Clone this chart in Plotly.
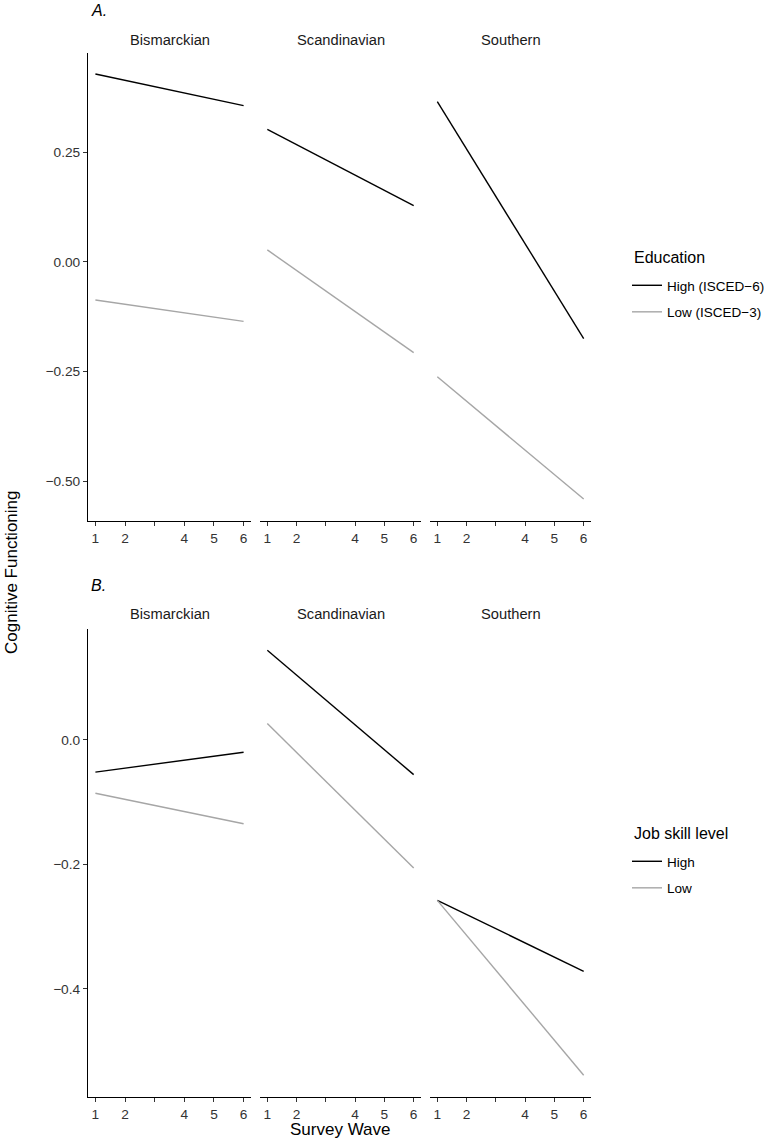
import plotly.graph_objects as go

# ---- data ----
regimes = ["Bismarckian", "Scandinavian", "Southern"]
waves = [1, 6]
x_tickvals = [1, 2, 3, 4, 5, 6]
x_ticktext = ["1", "2", "", "4", "5", "6"]

# Panel A: Education
edu_high_start = [0.428, 0.302, 0.365]
edu_high_end = [0.356, 0.128, -0.175]
edu_low_start = [-0.087, 0.027, -0.262]
edu_low_end = [-0.136, -0.207, -0.541]

# Panel B: Job skill level
job_high_start = [-0.052, 0.144, -0.258]
job_high_end = [-0.020, -0.056, -0.372]
job_low_start = [-0.086, 0.026, -0.258]
job_low_end = [-0.135, -0.206, -0.539]

yA_ticks = [0.25, 0.0, -0.25, -0.5]
yB_ticks = [0.0, -0.2, -0.4]

W, H = 772, 1138
FONT = "Liberation Sans, Arial, Helvetica, sans-serif"
BLACK = "#000000"
GREY = "#A6A6A6"

def px_x(p):
    return p / W

def px_y(p):
    return 1 - p / H

facet_x = [(88, 251), (260, 421), (430, 591)]
rowA_y = (53, 521)
rowB_y = (629, 1097)

fig = go.Figure()

def add_row(row_idx, high_s, high_e, low_s, low_e, names, legend_name):
    for i in range(3):
        ax = row_idx * 3 + i + 1
        xa = "x" if ax == 1 else f"x{ax}"
        ya = "y" if ax == 1 else f"y{ax}"
        fig.add_trace(go.Scatter(
            x=waves, y=[high_s[i], high_e[i]], mode="lines",
            line=dict(color=BLACK, width=1.4), name=names[0],
            legendgroup=f"{legend_name}h", showlegend=(i == 0),
            legend=legend_name, xaxis=xa, yaxis=ya))
        fig.add_trace(go.Scatter(
            x=waves, y=[low_s[i], low_e[i]], mode="lines",
            line=dict(color=GREY, width=1.4), name=names[1],
            legendgroup=f"{legend_name}l", showlegend=(i == 0),
            legend=legend_name, xaxis=xa, yaxis=ya))

add_row(0, edu_high_start, edu_high_end, edu_low_start, edu_low_end,
        ["High (ISCED\u22126)", "Low (ISCED\u22123)"], "legend")
add_row(1, job_high_start, job_high_end, job_low_start, job_low_end,
        ["High", "Low"], "legend2")

layout = dict(
    width=W, height=H,
    margin=dict(l=0, r=0, t=0, b=0, autoexpand=False),
    paper_bgcolor="white", plot_bgcolor="white",
    font=dict(family=FONT, color="#000000"),
    showlegend=True,
)

rangeA = [-0.591, 0.476]
rangeB = [-0.574, 0.178]
TICKFONT = dict(size=13.7, color="#333333", family=FONT)

for r, (ytop, ybot) in enumerate([rowA_y, rowB_y]):
    for i in range(3):
        ax = r * 3 + i + 1
        xk = "xaxis" if ax == 1 else f"xaxis{ax}"
        yk = "yaxis" if ax == 1 else f"yaxis{ax}"
        ya = "y" if ax == 1 else f"y{ax}"
        xa = "x" if ax == 1 else f"x{ax}"
        x0, x1 = facet_x[i]
        layout[xk] = dict(
            domain=[px_x(x0), px_x(x1)], anchor=ya, range=[0.75, 6.25],
            tickvals=x_tickvals, ticktext=x_ticktext, ticks="outside",
            ticklen=4, tickwidth=1, tickcolor="#333333",
            showline=True, linecolor="#000000", linewidth=1.2,
            showgrid=False, zeroline=False, tickfont=TICKFONT,
            fixedrange=True,
        )
        yax = dict(
            domain=[px_y(ybot), px_y(ytop)], anchor=xa,
            range=rangeA if r == 0 else rangeB,
            showgrid=False, zeroline=False, fixedrange=True,
        )
        if i == 0:
            yax.update(
                tickvals=yA_ticks if r == 0 else yB_ticks,
                tickformat=".2f" if r == 0 else ".1f",
                ticks="outside", ticklen=4, tickwidth=1, tickcolor="#333333",
                showline=True, linecolor="#000000", linewidth=1.2,
                tickfont=TICKFONT,
            )
        else:
            yax.update(showline=False, showticklabels=False, ticks="")
        layout[yk] = yax

LEGFONT = dict(size=13.5, family=FONT, color="#000000")
layout["legend"] = dict(
    x=px_x(627), y=px_y(299), xanchor="left", yanchor="middle",
    font=LEGFONT, bgcolor="rgba(0,0,0,0)",
    itemwidth=30, tracegroupgap=6,
)
layout["legend2"] = dict(
    x=px_x(627), y=px_y(875), xanchor="left", yanchor="middle",
    font=LEGFONT, bgcolor="rgba(0,0,0,0)",
    itemwidth=30, tracegroupgap=6,
)

annotations = []
for r, ystrip in enumerate([40, 614]):
    for i in range(3):
        x0, x1 = facet_x[i]
        annotations.append(dict(
            text=regimes[i], x=px_x((x0 + x1) / 2), y=px_y(ystrip),
            xref="paper", yref="paper", showarrow=False,
            xanchor="center", yanchor="middle",
            font=dict(size=14.7, family=FONT, color="#1A1A1A")))
for txt, yy in [("Education", 257), ("Job skill level", 833)]:
    annotations.append(dict(text=txt, x=px_x(632), y=px_y(yy), xref="paper", yref="paper",
                            showarrow=False, xanchor="left", yanchor="middle",
                            font=dict(size=16, family=FONT)))
annotations.append(dict(text="<i>A.</i>", x=px_x(89), y=px_y(11), xref="paper", yref="paper",
                        showarrow=False, xanchor="left", yanchor="middle",
                        font=dict(size=16, family=FONT)))
annotations.append(dict(text="<i>B.</i>", x=px_x(89), y=px_y(585), xref="paper", yref="paper",
                        showarrow=False, xanchor="left", yanchor="middle",
                        font=dict(size=16, family=FONT)))
annotations.append(dict(text="Cognitive Functioning", x=px_x(11), y=px_y(573),
                        xref="paper", yref="paper", showarrow=False, textangle=-90,
                        xanchor="center", yanchor="middle",
                        font=dict(size=17, family=FONT)))
annotations.append(dict(text="Survey Wave", x=px_x(339.5), y=px_y(1129),
                        xref="paper", yref="paper", showarrow=False,
                        xanchor="center", yanchor="middle",
                        font=dict(size=17, family=FONT)))
layout["annotations"] = annotations

fig.update_layout(**layout)
fig.write_html("out.html",
               config=dict(displayModeBar=False),
               post_script="document.body.style.margin='0';document.body.style.overflow='hidden';")
